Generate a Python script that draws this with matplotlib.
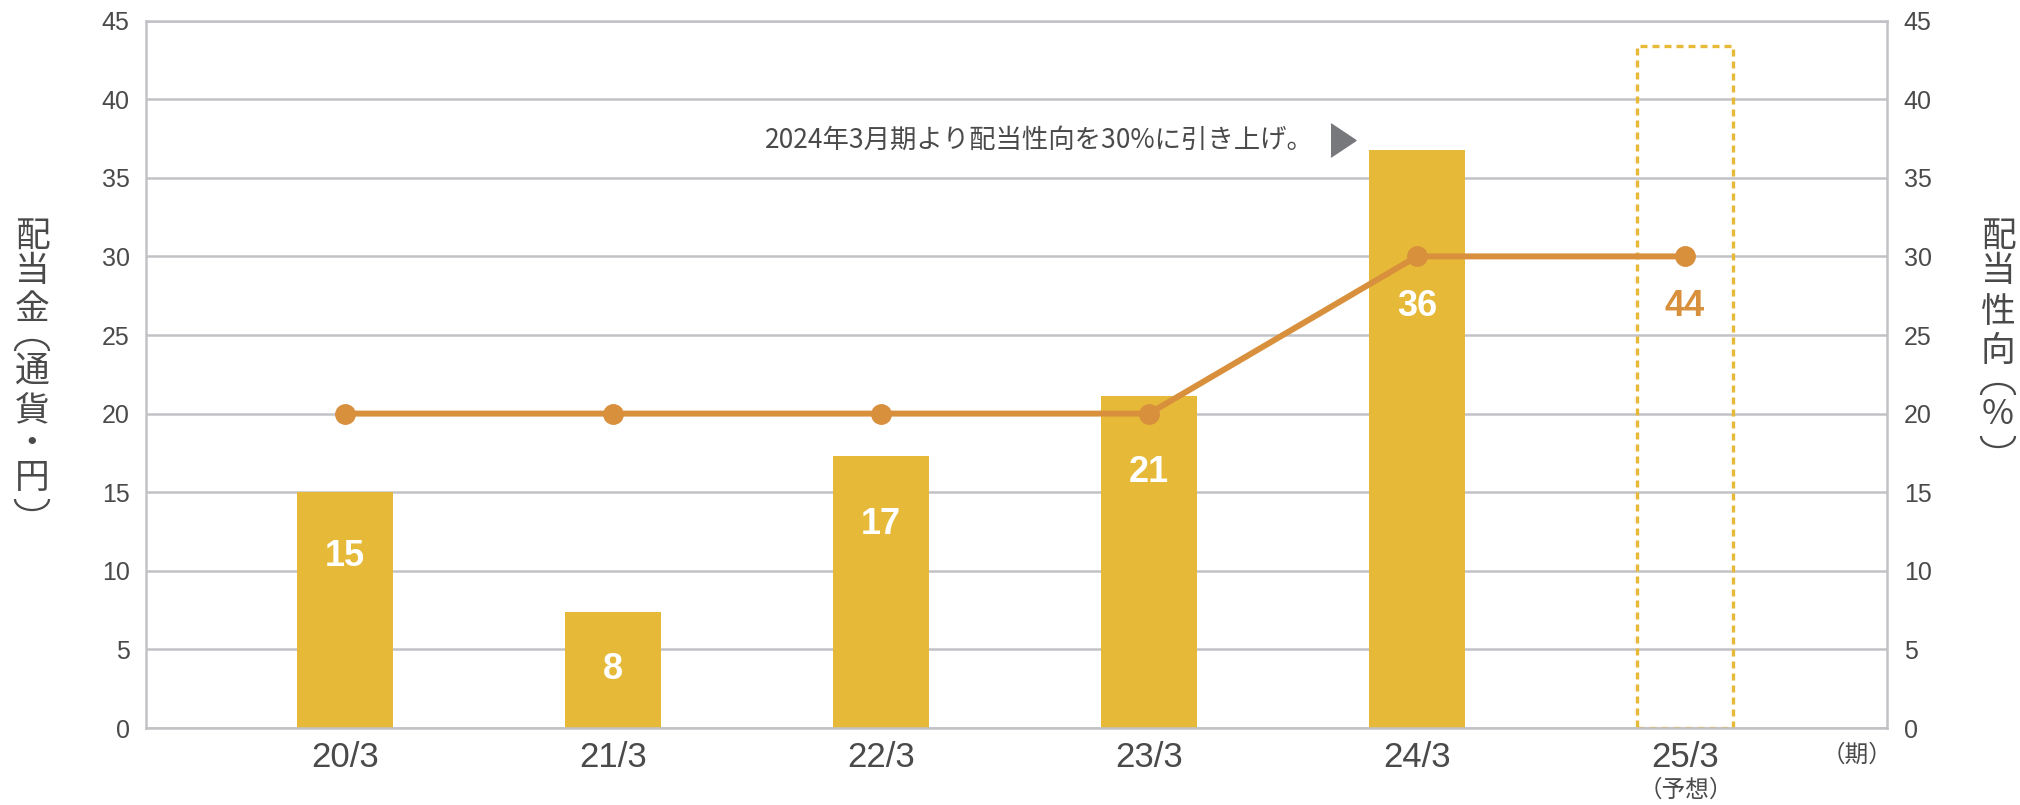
import matplotlib
matplotlib.use("Agg")
import matplotlib.pyplot as plt
from matplotlib.patches import Arc
from matplotlib.transforms import IdentityTransform
import numpy as np

plt.rcParams['font.family'] = ['Liberation Sans', 'Noto Sans CJK JP', 'DejaVu Sans']

# données
periodes = ['20/3', '21/3', '22/3', '23/3', '24/3', '25/3']
dividende = [15.0, 7.4, 17.3, 21.1, 36.8]        # barres pleines (20/3 .. 24/3)
dividende_prevu = 43.4                            # barre en pointillés (25/3 prévision)
etiquettes = ['15', '8', '17', '21', '36', '44']
payout = [20, 20, 20, 20, 30, 30]                 # ratio de distribution (%)

# positions des étiquettes (hauteur sur l'axe y)
etiq_y = [10.9, 3.75, 12.97, 16.24, 26.8, 26.8]

GOLD = '#E6B938'
ORANGE = '#D9903D'
GRID = '#C2C2C6'
TXT = '#4A4A4A'

W, H = 2020, 805
fig = plt.figure(figsize=(W / 100, H / 100), dpi=100)
ax = fig.add_axes([145.6 / W, 1 - 728 / H, (1887 - 145.6) / W, (728 - 20.6) / H])

x = np.arange(len(periodes))
largeur = 0.355

ax.bar(x[:5], dividende, width=largeur, color=GOLD, zorder=2)
ax.bar(x[5], dividende_prevu, width=largeur, facecolor='none', edgecolor=GOLD,
       linewidth=2.4, linestyle=(0, (2.1, 1.5)), zorder=2)

ax.plot(x, payout, color=ORANGE, linewidth=4.3, marker='o', markersize=14, zorder=3)

for i, t in enumerate(etiquettes):
    couleur = 'white' if i < 5 else ORANGE
    ax.text(x[i], etiq_y[i], t, ha='center', va='center', fontsize=26,
            fontweight='bold', color=couleur, zorder=4)

ax.set_xlim(-0.744, 5.754)
ax.set_ylim(0, 45)
ax.set_yticks(range(0, 46, 5))
ax.grid(axis='y', color=GRID, linewidth=1.8, zorder=0)
ax.set_axisbelow(True)
for s in ax.spines.values():
    s.set_color(GRID)
    s.set_linewidth(1.8)

ax.set_xticks(x)
ax.set_xticklabels(periodes, fontsize=25, color=TXT)
ax.tick_params(axis='x', length=0, pad=9)
ax.tick_params(axis='y', length=0, pad=11.5, labelsize=18, labelcolor=TXT)

ax2 = ax.twinx()
ax2.set_ylim(0, 45)
ax2.set_yticks(range(0, 46, 5))
ax2.tick_params(axis='y', length=0, pad=12, labelsize=18, labelcolor=TXT)
for s in ax2.spines.values():
    s.set_visible(False)

# textes sous l'axe
fig.text(1686 / W, 1 - 790 / H, '（予想）', ha='center', va='center', fontsize=17,
         color=TXT, family=['Noto Sans CJK JP'])
fig.text(1857 / W, 1 - 755 / H, '（期）', ha='center', va='center', fontsize=17,
         color=TXT, family=['Noto Sans CJK JP'])

# annotation
ax.text(3.615, 37.4, '2024年3月期より配当性向を30%に引き上げ。', ha='right', va='center',
        fontsize=19, color=TXT, family=['Noto Sans CJK JP'])
ax.plot([3.725], [37.4], marker=[(-0.75, -1), (0.75, 0), (-0.75, 1)], markersize=24,
        color='#77787B', linestyle='none', clip_on=False)


# titres verticaux, un caractère par ligne ; parenthèses verticales dessinées en arcs
def vertical(xc, chars, ys):
    for c, yp in zip(chars, ys):
        if c == '(':
            fig.add_artist(Arc((xc, H - yp - 6), 34, 22, theta1=0, theta2=180,
                               color=TXT, linewidth=1.6, transform=IdentityTransform()))
        elif c == ')':
            fig.add_artist(Arc((xc, H - yp + 6), 34, 22, theta1=180, theta2=360,
                               color=TXT, linewidth=1.6, transform=IdentityTransform()))
        else:
            fig.text(xc / W, 1 - yp / H, c, ha='center', va='center', fontsize=25,
                     color=TXT, family=['Noto Sans CJK JP'])


vertical(32, list('配当金(通貨・円)'), [236, 271, 309, 345, 372, 412, 443, 478, 505])
vertical(1998, list('配当性向(%)'), [236, 272, 312, 351, 389, 414, 442])

fig.savefig('out.png', dpi=100)
